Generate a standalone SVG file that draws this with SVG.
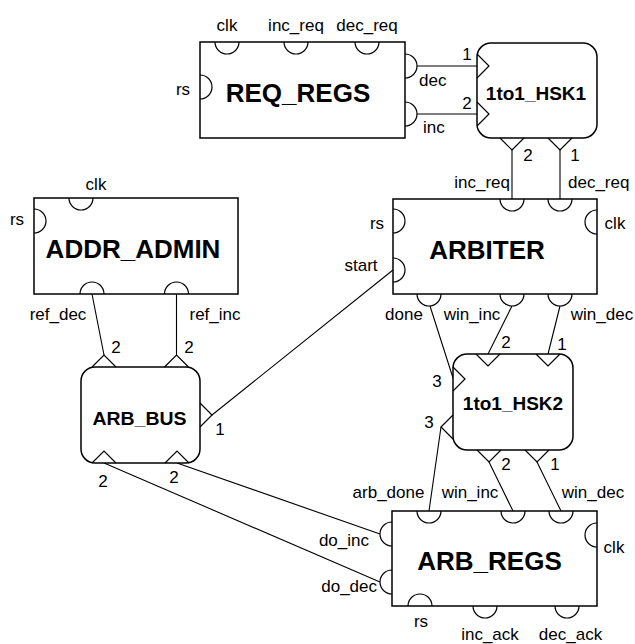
<svg xmlns="http://www.w3.org/2000/svg" width="635" height="644" viewBox="0 0 635 644">
<style>
.box{fill:#fff;stroke:#000;stroke-width:1.5}
.p{fill:none;stroke:#000;stroke-width:1.2}
.c{fill:none;stroke:#000;stroke-width:1.1}
.t{font-family:"Liberation Sans",Arial,sans-serif;font-size:26px;font-weight:bold;text-anchor:middle}
.h{font-family:"Liberation Sans",Arial,sans-serif;font-size:19px;font-weight:bold;text-anchor:middle}
.l{font-family:"Liberation Sans",Arial,sans-serif;font-size:17px;text-anchor:middle}
.e{text-anchor:end}
.s{text-anchor:start}
</style>
<rect width="635" height="644" fill="#fff"/>
<g id="connectors">
<path class="c" d="M417,66H477M417,114H477M512,150V199M560,150V199M92,294L104,355M176.5,294V355M212,415L393,270M430,306L453,378M512,306L488,354M560,306L548,354M441,427L429,511M489,462L513,511M537,462L561,511M177,463L380,534M104,463L380,582"/>
</g>
<g id="REQ_REGS">
<rect class="box" x="200" y="42" width="205" height="96"/>
<path class="p" d="M215,42A12,12 0 0 0 239,42M284,42A12,12 0 0 0 308,42M355,42A12,12 0 0 0 379,42M200,75A12,12 0 0 1 200,99M405,54A12,12 0 0 1 405,78M405,102A12,12 0 0 1 405,126"/>
<text class="t" x="298" y="102">REQ_REGS</text>
<text class="l" x="227" y="31">clk</text>
<text class="l" x="296" y="31">inc_req</text>
<text class="l" x="367" y="31">dec_req</text>
<text class="l" x="183" y="95">rs</text>
<text class="l s" x="419" y="86">dec</text>
<text class="l s" x="423" y="133">inc</text>
</g>
<g id="HSK1">
<rect class="box" x="477" y="43" width="120" height="95" rx="14"/>
<path class="p" d="M477,54L489,66L477,78M477,102L489,114L477,126M500,138L512,150L524,138M548,138L560,150L572,138"/>
<text class="h" x="536" y="100">1to1_HSK1</text>
<text class="l" x="467" y="60">1</text>
<text class="l" x="467" y="109">2</text>
<text class="l" x="528" y="161">2</text>
<text class="l" x="575" y="161">1</text>
<text class="l e" x="510" y="188">inc_req</text>
<text class="l s" x="568" y="188">dec_req</text>
</g>
<g id="ADDR_ADMIN">
<rect class="box" x="34" y="198" width="204" height="96"/>
<path class="p" d="M69,198A12,12 0 0 0 93,198M34,209A12,12 0 0 1 34,233M80,294A12,12 0 0 1 104,294M164.5,294A12,12 0 0 1 188.5,294"/>
<text class="t" x="133" y="258">ADDR_ADMIN</text>
<text class="l" x="96" y="190">clk</text>
<text class="l" x="17" y="225">rs</text>
<text class="l" x="58" y="320">ref_dec</text>
<text class="l" x="215" y="320">ref_inc</text>
</g>
<g id="ARBITER">
<rect class="box" x="393" y="199" width="204" height="95"/>
<path class="p" d="M500,199A12,12 0 0 0 524,199M548,199A12,12 0 0 0 572,199M393,209A12,12 0 0 1 393,233M393,258A12,12 0 0 1 393,282M597,210A12,12 0 0 0 597,234M417,294A12,12 0 0 0 441,294M500,294A12,12 0 0 0 524,294M548,294A12,12 0 0 0 572,294"/>
<text class="t" x="487" y="259">ARBITER</text>
<text class="l" x="377" y="229">rs</text>
<text class="l" x="361" y="271">start</text>
<text class="l" x="615" y="229">clk</text>
<text class="l" x="404" y="320">done</text>
<text class="l" x="472" y="320">win_inc</text>
<text class="l" x="602" y="320">win_dec</text>
</g>
<g id="ARB_BUS">
<rect class="box" x="81" y="367" width="119" height="96" rx="14"/>
<path class="p" d="M92,367L104,355L116,367M164.5,367L176.5,355L188.5,367M200,403L212,415L200,427M92,463L104,451L116,463M165,463L177,451L189,463"/>
<text class="h" x="139.5" y="425" font-size="22" textLength="94" lengthAdjust="spacingAndGlyphs">ARB_BUS</text>
<text class="l" x="116" y="353">2</text>
<text class="l" x="189" y="353">2</text>
<text class="l" x="220" y="435">1</text>
<text class="l" x="103" y="487">2</text>
<text class="l" x="174" y="483">2</text>
</g>
<g id="HSK2">
<rect class="box" x="453" y="354" width="120" height="96" rx="14"/>
<path class="p" d="M476,354L488,366L500,354M536,354L548,366L560,354M453,367L465,379L453,391M453,415L441,427L453,439M477,450L489,462L501,450M525,450L537,462L549,450"/>
<text class="h" x="513" y="410">1to1_HSK2</text>
<text class="l" x="506" y="348">2</text>
<text class="l" x="562" y="350">1</text>
<text class="l" x="437" y="387">3</text>
<text class="l" x="429" y="428">3</text>
<text class="l" x="506" y="470">2</text>
<text class="l" x="555" y="470">1</text>
</g>
<g id="ARB_REGS">
<rect class="box" x="392" y="511" width="205" height="95"/>
<path class="p" d="M417,511A12,12 0 0 0 441,511M501,511A12,12 0 0 0 525,511M549,511A12,12 0 0 0 573,511M392,522A12,12 0 0 0 392,546M392,570A12,12 0 0 0 392,594M597,523A12,12 0 0 0 597,547M408,606A12,12 0 0 1 432,606M473,606A12,12 0 0 0 497,606M555,606A12,12 0 0 0 579,606"/>
<text class="t" x="489.5" y="570">ARB_REGS</text>
<text class="l" x="388.5" y="498">arb_done</text>
<text class="l" x="470" y="498">win_inc</text>
<text class="l" x="593" y="498">win_dec</text>
<text class="l" x="614" y="553">clk</text>
<text class="l e" x="369" y="546">do_inc</text>
<text class="l e" x="377" y="592">do_dec</text>
<text class="l" x="421" y="627">rs</text>
<text class="l" x="490" y="639.5">inc_ack</text>
<text class="l" x="570.5" y="639.5">dec_ack</text>
</g>
</svg>
